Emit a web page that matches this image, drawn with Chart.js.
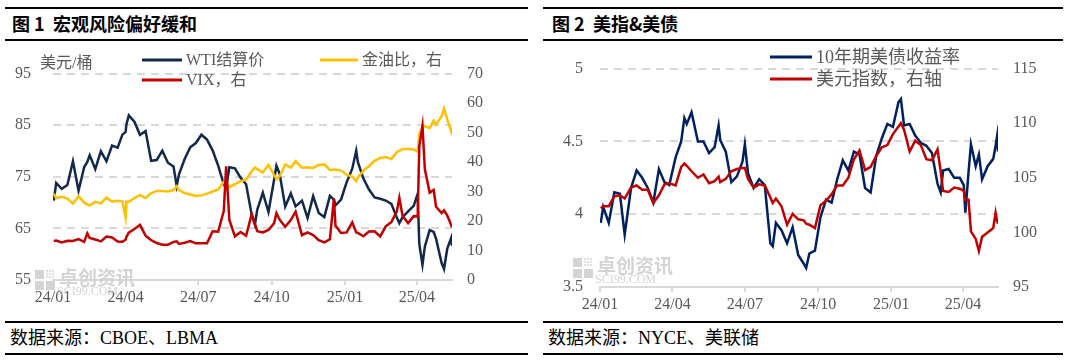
<!DOCTYPE html>
<html><head><meta charset="utf-8">
<script src="https://cdn.jsdelivr.net/npm/chart.js@4.4.1/dist/chart.umd.min.js"></script>
<style>
html,body{margin:0;padding:0;background:#fff;width:1069px;height:361px;overflow:hidden;}
.rule{position:absolute;height:2px;background:#000;}
.title{position:absolute;font:bold 18px "Noto Sans CJK SC",sans-serif;color:#000;line-height:20px;white-space:pre;}
.src{position:absolute;font:18px "Liberation Serif","Noto Sans CJK SC",serif;color:#000;line-height:18px;white-space:pre;}
canvas{position:absolute;}
</style></head><body>
<div class="rule" style="left:5px;width:523px;top:7px"></div>
<div class="title" style="left:12px;top:13px">图 1  宏观风险偏好缓和</div>
<div class="rule" style="left:5px;width:523px;top:39px"></div>
<canvas id="c1" width="530" height="278" style="left:0;top:42px"></canvas>
<div class="rule" style="left:5px;width:523px;top:321px"></div>
<div class="src" style="left:10px;top:329px">数据来源：CBOE、LBMA</div>
<div class="rule" style="left:5px;width:523px;top:353px"></div>

<div class="rule" style="left:543px;width:520px;top:7px"></div>
<div class="title" style="left:552px;top:13px">图 2  美指&amp;美债</div>
<div class="rule" style="left:543px;width:520px;top:39px"></div>
<canvas id="c2" width="529" height="278" style="left:540px;top:42px"></canvas>
<div class="rule" style="left:543px;width:520px;top:321px"></div>
<div class="src" style="left:548px;top:329px">数据来源：NYCE、美联储</div>
<div class="rule" style="left:543px;width:520px;top:353px"></div>

<script>
// ---------- DATA ----------
const tickDates = ["2024-01-01","2024-04-01","2024-07-01","2024-10-01","2025-01-01","2025-04-01"];
const tickLabels = ["24/01","24/04","24/07","24/10","25/01","25/04"];

const leftDates = [
"2024-01-02","2024-01-05","2024-01-12","2024-01-19","2024-01-26",
"2024-02-02","2024-02-09","2024-02-13","2024-02-16","2024-02-23",
"2024-03-01","2024-03-08","2024-03-15","2024-03-22","2024-03-28",
"2024-04-01","2024-04-02","2024-04-05","2024-04-12","2024-04-19","2024-04-26",
"2024-05-03","2024-05-10","2024-05-17","2024-05-24","2024-05-31",
"2024-06-04","2024-06-07","2024-06-14","2024-06-21","2024-06-28",
"2024-07-05","2024-07-12","2024-07-19","2024-07-26",
"2024-08-02","2024-08-05","2024-08-09","2024-08-16","2024-08-23","2024-08-30",
"2024-09-06","2024-09-10","2024-09-13","2024-09-20","2024-09-27",
"2024-10-04","2024-10-07","2024-10-11","2024-10-18","2024-10-25","2024-10-31",
"2024-11-08","2024-11-15","2024-11-22","2024-11-29",
"2024-12-06","2024-12-13","2024-12-18","2024-12-20","2024-12-27",
"2025-01-03","2025-01-10","2025-01-15","2025-01-17","2025-01-24","2025-01-31",
"2025-02-07","2025-02-14","2025-02-21","2025-02-28",
"2025-03-07","2025-03-10","2025-03-14","2025-03-21","2025-03-28",
"2025-04-02","2025-04-04","2025-04-08","2025-04-11","2025-04-17","2025-04-22","2025-04-25",
"2025-05-02","2025-05-05","2025-05-09","2025-05-14","2025-05-15"];

const wti = [
70.38,73.81,72.68,73.41,78.01,
72.28,76.84,77.87,79.19,76.49,
79.97,78.01,81.04,80.63,83.17,
83.71,85.15,86.91,85.66,83.14,83.85,
78.11,78.26,80.06,77.72,76.99,
73.25,75.53,78.45,80.73,81.54,
83.16,82.21,80.13,77.16,
73.52,72.94,76.84,76.65,74.83,73.55,
67.67,65.75,68.65,71.92,68.18,
74.38,77.14,75.56,69.22,71.78,69.26,
70.38,67.02,71.24,68.00,
67.20,71.29,70.58,69.46,70.60,
73.96,76.57,80.04,77.88,74.66,72.53,
71.00,70.74,70.40,69.76,
67.04,66.03,67.18,68.28,69.36,
71.71,61.99,57.95,61.50,64.68,64.31,63.02,
58.29,57.13,61.02,63.15,61.62];

const vix = [
13.20,13.35,12.70,13.30,13.26,
13.85,12.93,15.85,14.24,13.75,
13.11,14.74,14.41,13.06,13.01,
13.65,14.61,16.03,17.31,18.71,15.03,
13.49,12.55,11.99,11.93,12.92,
13.11,12.22,12.66,13.20,12.44,
12.48,12.46,16.52,16.39,
23.39,38.57,20.37,14.80,16.27,15.00,
22.38,19.08,16.56,16.15,16.96,
19.21,22.64,20.46,18.03,20.33,23.16,
15.20,16.14,15.24,13.51,
12.77,13.81,27.62,18.36,15.95,
16.13,19.54,16.12,15.97,14.85,16.43,
16.54,14.77,18.21,19.63,
23.37,27.86,21.77,19.28,21.65,
21.51,45.31,52.33,37.56,29.65,30.57,24.84,
22.68,23.64,21.90,18.62,17.83];

const goldOil = [
29.3,27.7,28.2,27.6,25.9,
28.4,26.3,25.6,25.3,26.5,
26.0,27.9,26.6,26.9,26.6,
21.2,26.6,26.5,27.8,28.8,27.8,
29.4,30.2,30.2,30.0,30.5,
31.8,30.5,29.5,29.0,28.5,
28.7,29.3,30.0,30.7,
33.3,33.0,31.4,32.5,33.5,34.0,
36.9,38.1,37.6,36.5,39.0,
35.7,34.2,35.2,39.2,38.1,40.3,
38.1,38.2,38.0,39.0,
39.2,37.3,37.4,37.4,37.1,
35.7,35.1,33.5,34.8,37.1,38.6,
40.4,41.4,41.7,41.0,
43.4,43.8,44.4,44.4,44.3,
43.6,49.5,51.8,52.2,51.5,54.1,52.7,
55.6,58.1,54.6,50.4,51.8];

const rightDates = [
"2024-01-02","2024-01-05","2024-01-12","2024-01-19","2024-01-26",
"2024-02-01","2024-02-09","2024-02-16","2024-02-23",
"2024-03-01","2024-03-08","2024-03-15","2024-03-22","2024-03-28",
"2024-04-05","2024-04-12","2024-04-16","2024-04-19","2024-04-25",
"2024-05-03","2024-05-10","2024-05-17","2024-05-24","2024-05-29","2024-05-31",
"2024-06-07","2024-06-14","2024-06-21","2024-06-28",
"2024-07-01","2024-07-05","2024-07-12","2024-07-19","2024-07-26",
"2024-08-02","2024-08-05","2024-08-09","2024-08-16","2024-08-23","2024-08-30",
"2024-09-06","2024-09-13","2024-09-16","2024-09-20","2024-09-27",
"2024-10-04","2024-10-11","2024-10-18","2024-10-25",
"2024-11-01","2024-11-08","2024-11-15","2024-11-22","2024-11-29",
"2024-12-06","2024-12-13","2024-12-20","2024-12-27",
"2025-01-03","2025-01-10","2025-01-13","2025-01-17","2025-01-24","2025-01-31",
"2025-02-07","2025-02-14","2025-02-21","2025-02-28",
"2025-03-04","2025-03-07","2025-03-14","2025-03-21","2025-03-28",
"2025-04-02","2025-04-04","2025-04-08","2025-04-11","2025-04-17","2025-04-21","2025-04-25",
"2025-05-02","2025-05-09","2025-05-12","2025-05-14","2025-05-15"];

const ust10y = [
3.94,4.05,3.94,4.15,4.14,
3.86,4.18,4.30,4.25,
4.18,4.08,4.31,4.22,4.20,
4.39,4.50,4.66,4.62,4.70,
4.50,4.50,4.42,4.46,4.61,4.51,
4.43,4.22,4.26,4.36,
4.48,4.28,4.18,4.24,4.20,
3.80,3.78,3.94,3.89,3.80,3.91,
3.72,3.66,3.63,3.73,3.75,
3.98,4.10,4.08,4.24,
4.37,4.30,4.43,4.41,4.18,
4.15,4.40,4.52,4.62,
4.60,4.77,4.79,4.61,4.62,4.54,
4.49,4.47,4.42,4.21,
4.15,4.30,4.31,4.25,4.25,
4.20,4.01,4.29,4.48,4.33,4.41,4.24,
4.33,4.38,4.47,4.54,4.43];

const dxy = [
102.2,102.4,102.4,103.3,103.4,
103.1,104.1,104.3,103.9,
103.9,102.7,103.4,104.4,104.5,
104.3,106.0,106.3,106.1,105.6,
105.0,105.3,104.5,104.7,105.1,104.6,
104.9,105.6,105.8,105.9,
105.9,104.9,104.1,104.4,104.3,
103.2,102.7,103.1,102.4,100.7,101.7,
101.2,101.1,100.8,100.7,100.4,
102.5,102.9,103.5,104.3,
104.3,105.0,106.7,107.5,105.7,
106.0,107.0,107.8,108.0,
109.0,109.7,110.0,109.4,107.4,108.4,
108.0,106.7,106.6,107.6,
105.6,103.8,103.7,104.1,104.0,
103.8,103.0,103.0,100.1,99.4,98.3,99.6,
100.0,100.4,101.8,101.0,100.8];

// ---------- HELPERS ----------
const BASE = Date.UTC(2024,0,1);
function dayOf(s){ return (Date.UTC(+s.slice(0,4), +s.slice(5,7)-1, +s.slice(8,10)) - BASE)/86400000; }
const tickDays = tickDates.map(dayOf);
function pts(dates, vals){ return dates.map((d,i)=>({x:dayOf(d), y:vals[i]})); }

const GRAY = '#595959', GRID = '#d9d9d9';
const NUMFONT = {family:'"Liberation Serif","Noto Sans CJK SC",serif', size:16};

function xScale(maxDay){
  return {
    type:'linear', min:0, max:maxDay,
    afterBuildTicks: s => { s.ticks = tickDays.map(v=>({value:v})); },
    ticks:{ callback:(v)=>{ const i=tickDays.indexOf(v); return i>=0?tickLabels[i]:''; },
      font:NUMFONT, color:GRAY, maxRotation:0, autoSkip:false, padding:3 },
    grid:{ display:true, drawOnChartArea:false, drawTicks:true, tickLength:5, color:GRID, lineWidth:2 },
    border:{ display:true, color:GRID, width:2 }
  };
}

function legendPlugin(cfg){
  return { id:'customLegend',
    beforeDatasetsDraw(chart){
      const ctx = chart.ctx; const w = cfg.wm;
      ctx.save();
      ctx.fillStyle = '#d4d4d4';
      ctx.fillRect(w.x, w.y, 9, 9); ctx.fillRect(w.x, w.y+11, 9, 9); ctx.fillRect(w.x+11, w.y+11, 9, 9);
      ctx.fillStyle = '#e0e0e0';
      for(let i=0;i<3;i++) for(let j=0;j<3;j++) ctx.fillRect(w.x+11+i*3, w.y+j*3, 2, 2);
      ctx.fillStyle = '#d4d4d4';
      ctx.font = 'bold 19px "Noto Sans CJK SC",sans-serif';
      ctx.textBaseline = 'middle'; ctx.textAlign='left';
      ctx.fillText('卓创资讯', w.x+24, w.y+8);
      ctx.font = '12px "Liberation Serif",serif';
      ctx.fillText('SCI99.COM', w.x+22, w.y+22);
      ctx.restore();
    },
    afterDraw(chart){
      const ctx = chart.ctx;
      ctx.save();
      ctx.font = cfg.font; ctx.fillStyle = GRAY; ctx.textBaseline='middle'; ctx.textAlign='left';
      (cfg.texts||[]).forEach(t=>ctx.fillText(t.text, t.x, t.y));
      cfg.items.forEach(it=>{
        ctx.strokeStyle = it.color; ctx.lineWidth = 3;
        ctx.beginPath(); ctx.moveTo(it.x0, it.y); ctx.lineTo(it.x1, it.y); ctx.stroke();
        ctx.fillStyle = GRAY; ctx.fillText(it.text, it.x1+4, it.y+1);
      });
      ctx.restore();
    }
  };
}

const lineDs = (label, data, color, axis) => ({label, data, borderColor:color, backgroundColor:color,
  borderWidth:2.5, pointRadius:0, tension:0, yAxisID:axis, fill:false});

// ---------- LEFT CHART ----------
new Chart(document.getElementById('c1'), {
  type:'line',
  data:{ datasets:[
    lineDs('VIX，右', pts(leftDates, vix), '#c00000', 'y1'),
    lineDs('金油比，右', pts(leftDates, goldOil), '#ffc000', 'y1'),
    lineDs('WTI结算价', pts(leftDates, wti), '#13294b', 'y')
  ]},
  options:{
    responsive:false, animation:false, devicePixelRatio:1,
    layout:{ padding:{left:0, right:0, top:25, bottom:0} },
    plugins:{ legend:{display:false}, tooltip:{enabled:false} },
    scales:{
      x: Object.assign(xScale(dayOf(leftDates[leftDates.length-1])), { afterFit:s=>{ s.height = 40; } }),
      y:{ position:'left', min:55, max:95,
        afterBuildTicks:s=>{ s.ticks=[55,65,75,85,95].map(v=>({value:v})); },
        afterFit:s=>{ s.width = 53; },
        ticks:{ font:NUMFONT, color:GRAY, padding:22 },
        grid:{ drawTicks:false, lineWidth:2, color:c=> c.tick && c.tick.value===55 ? 'rgba(0,0,0,0)' : GRID },
        border:{ display:false, dash:[8,6] } },
      y1:{ position:'right', min:0, max:70,
        afterBuildTicks:s=>{ s.ticks=[0,10,20,30,40,50,60,70].map(v=>({value:v})); },
        afterFit:s=>{ s.width = 78; },
        ticks:{ font:NUMFONT, color:GRAY, padding:15 },
        grid:{ display:false, drawTicks:false }, border:{ display:false } }
    }
  },
  plugins:[ legendPlugin({
    font:'16px "Liberation Serif","Noto Sans CJK SC",serif',
    wm:{x:35, y:228},
    texts:[{text:'美元/桶', x:40, y:22}],
    items:[
      {color:'#13294b', x0:142, x1:182, y:18, text:'WTI结算价'},
      {color:'#ffc000', x0:320, x1:358, y:18, text:'金油比，右'},
      {color:'#c00000', x0:142, x1:182, y:38, text:'VIX，右'}
    ]}) ]
});

// ---------- RIGHT CHART ----------
new Chart(document.getElementById('c2'), {
  type:'line',
  data:{ datasets:[
    lineDs('美元指数，右轴', pts(rightDates, dxy), '#c00000', 'y1'),
    lineDs('10年期美债收益率', pts(rightDates, ust10y), '#002060', 'y')
  ]},
  options:{
    responsive:false, animation:false, devicePixelRatio:1,
    layout:{ padding:{left:0, right:0, top:24, bottom:0} },
    plugins:{ legend:{display:false}, tooltip:{enabled:false} },
    scales:{
      x: Object.assign(xScale(dayOf(rightDates[rightDates.length-1])), { afterFit:s=>{ s.height = 33; } }),
      y:{ position:'left', min:3.5, max:5,
        afterBuildTicks:s=>{ s.ticks=[3.5,4,4.5,5].map(v=>({value:v})); },
        afterFit:s=>{ s.width = 60; },
        ticks:{ font:NUMFONT, color:GRAY, padding:17, callback:v=>String(v) },
        grid:{ drawTicks:false, lineWidth:2, color:c=> c.tick && c.tick.value===3.5 ? 'rgba(0,0,0,0)' : GRID },
        border:{ display:false, dash:[8,6] } },
      y1:{ position:'right', min:95, max:115,
        afterBuildTicks:s=>{ s.ticks=[95,100,105,110,115].map(v=>({value:v})); },
        afterFit:s=>{ s.width = 71; },
        ticks:{ font:NUMFONT, color:GRAY, padding:15 },
        grid:{ display:false, drawTicks:false }, border:{ display:false } }
    }
  },
  plugins:[ legendPlugin({
    font:'18px "Liberation Serif","Noto Sans CJK SC",serif',
    wm:{x:33, y:216},
    items:[
      {color:'#002060', x0:230, x1:272, y:15, text:'10年期美债收益率'},
      {color:'#c00000', x0:230, x1:272, y:37, text:'美元指数，右轴'}
    ]}) ]
});
</script>
</body></html>
